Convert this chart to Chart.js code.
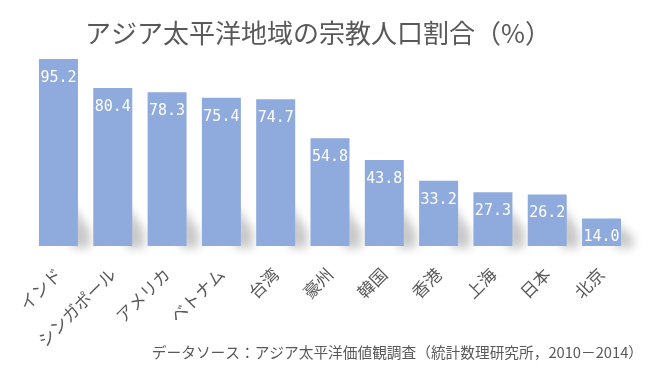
<!DOCTYPE html>
<html><head><meta charset="utf-8">
<script src="https://cdn.jsdelivr.net/npm/chart.js@4"></script>
<style>html,body{margin:0;padding:0;background:#fff;}#wrap{width:650px;height:371px;position:relative;}</style>
</head><body><div id="wrap"><canvas id="c" width="650" height="371"></canvas></div>
<script>
const titleText = 'アジア太平洋地域の宗教人口割合（%）';
const sourceText = 'データソース：アジア太平洋価値観調査（統計数理研究所，2010－2014）';
const categories = ['インド','シンガポール','アメリカ','ベトナム','台湾','豪州','韓国','香港','上海','日本','北京'];
const values = [95.2, 80.4, 78.3, 75.4, 74.7, 54.8, 43.8, 33.2, 27.3, 26.2, 14.0];

const textColor = '#595959';
const jp = '"Noto Sans CJK JP", "Noto Sans", sans-serif';

const decor = {
  id: 'decor',
  beforeDatasetsDraw(chart) {
    const ctx = chart.ctx;
    const meta = chart.getDatasetMeta(0);
    ctx.save();
    ctx.filter = 'blur(5px)';
    ctx.fillStyle = 'rgba(0,0,0,0.22)';
    meta.data.forEach(bar => {
      const p = bar.getProps(['x','y','base','width'], true);
      const x1 = p.x + p.width / 2;
      const h = p.base - p.y;
      const sh = Math.min(h * 0.9, 42);
      ctx.beginPath();
      ctx.moveTo(x1 - 6, p.base - sh);
      ctx.lineTo(x1 + 12, p.base - sh * 0.35);
      ctx.lineTo(x1 + 12, p.base + 2);
      ctx.lineTo(x1 - 6, p.base + 2);
      ctx.closePath();
      ctx.fill();
    });
    ctx.restore();
  },
  afterDatasetsDraw(chart) {
    const ctx = chart.ctx;
    const meta = chart.getDatasetMeta(0);
    ctx.save();
    ctx.font = '15px "DejaVu Sans Mono", monospace';
    ctx.fillStyle = '#ffffff';
    ctx.textAlign = 'center';
    ctx.textBaseline = 'middle';
    meta.data.forEach((bar, i) => {
      ctx.fillText(values[i].toFixed(1), bar.x, bar.y + 19);
    });
    ctx.restore();
  },
  afterDraw(chart) {
    const ctx = chart.ctx;
    ctx.save();
    ctx.fillStyle = textColor;
    ctx.textBaseline = 'middle';
    ctx.textAlign = 'center';
    ctx.font = '26px ' + jp;
    ctx.fillText(titleText, 318, 33);
    ctx.textAlign = 'right';
    ctx.font = '14.7px ' + jp;
    ctx.fillText(sourceText, 643, 352);
    ctx.restore();
  }
};

new Chart(document.getElementById('c'), {
  type: 'bar',
  data: {
    labels: categories,
    datasets: [{
      data: values,
      backgroundColor: '#8FAADC',
      borderWidth: 0,
      categoryPercentage: 1.0,
      barPercentage: 0.718
    }]
  },
  options: {
    responsive: false,
    animation: false,
    events: [],
    layout: { padding: { top: 49.5, bottom: 15, left: 31.3, right: 21.3 } },
    plugins: { legend: { display: false }, tooltip: { enabled: false } },
    scales: {
      y: { display: false, min: 0, max: 100 },
      x: {
        grid: { display: false, drawTicks: false },
        border: { display: false },
        ticks: {
          color: textColor,
          font: { family: jp, size: 17 },
          minRotation: 45, maxRotation: 45,
          padding: 18,
          autoSkip: false
        },
        afterFit(scale) { scale.height = 110; scale.paddingLeft = 0; scale.paddingRight = 0; }
      }
    }
  },
  plugins: [decor]
});
</script>
</body></html>
